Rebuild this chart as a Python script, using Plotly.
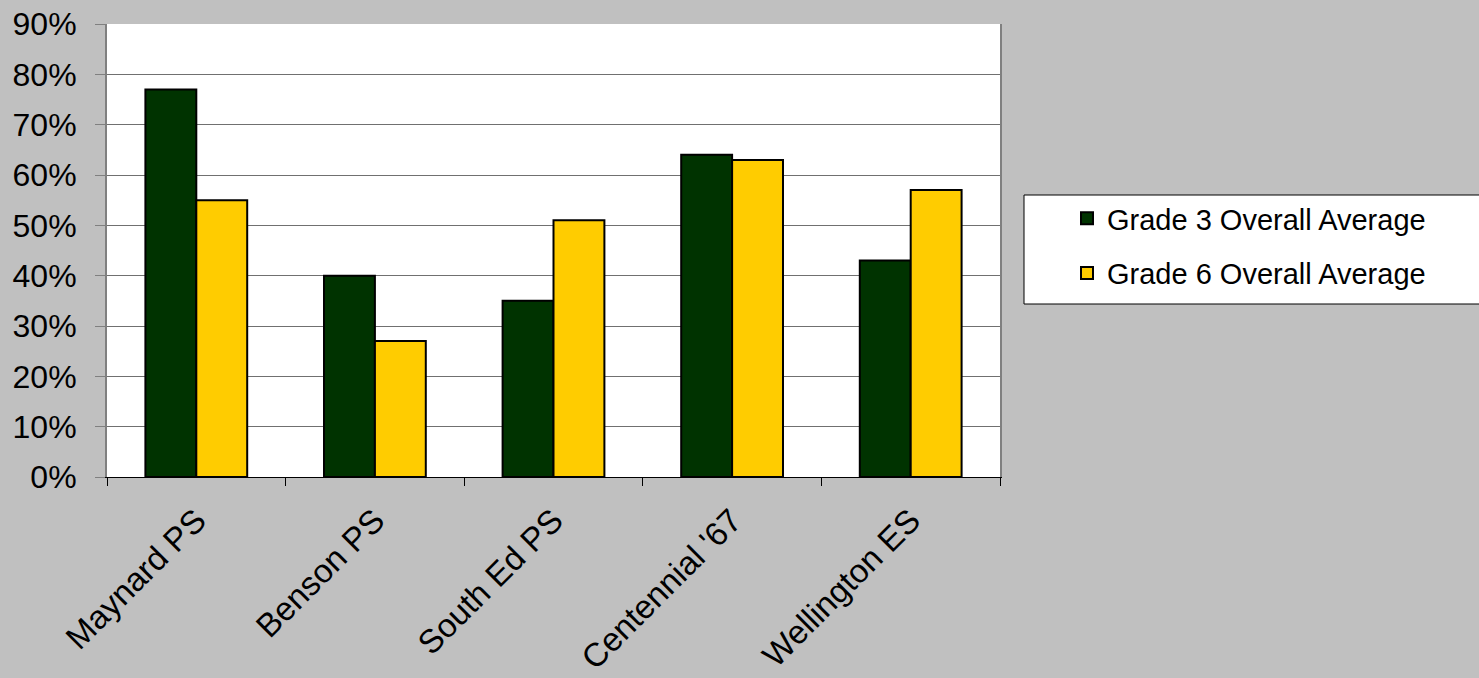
import plotly.graph_objects as go

schools = ["Maynard PS", "Benson PS", "South Ed PS", "Centennial '67", "Wellington ES"]
grade3 = [77, 40, 35, 64, 43]
grade6 = [55, 27, 51, 63, 57]
series_names = ["Grade 3 Overall Average", "Grade 6 Overall Average"]
y_ticks = [0, 10, 20, 30, 40, 50, 60, 70, 80, 90]

FONT = "Arial, 'Liberation Sans', sans-serif"
W, H = 1479, 678
L, R, T, B = 107, 479, 24, 201
pw, ph = W - L - R, H - T - B

def px_x(x):
    return (x - L) / pw

def px_y(y):
    return (H - B - y) / ph

fig = go.Figure()
fig.add_trace(go.Bar(x=schools, y=grade3, name=series_names[0], legendgroup="g3",
                     marker=dict(color="#003300", line=dict(color="#000000", width=2))))
fig.add_trace(go.Bar(x=schools, y=grade6, name=series_names[1], legendgroup="g6",
                     marker=dict(color="#FFCC00", line=dict(color="#000000", width=2))))

fig.update_layout(
    width=W, height=H,
    margin=dict(l=L, r=R, t=T, b=B, autoexpand=False),
    paper_bgcolor="#C0C0C0",
    plot_bgcolor="#FFFFFF",
    barmode="group", bargap=0.43, bargroupgap=0,
    font=dict(family=FONT, color="#000000"),
    legend=dict(
        x=px_x(1067), y=px_y(193), xanchor="left", yanchor="top",
        bgcolor="rgba(0,0,0,0)", borderwidth=0,
        font=dict(size=29, family=FONT, color="#000000"),
        traceorder="grouped", tracegroupgap=14,
    ),
    shapes=[dict(type="rect", xref="paper", yref="paper",
                 x0=px_x(1024), x1=px_x(1500), y0=px_y(304), y1=px_y(195),
                 fillcolor="#FFFFFF", line=dict(color="#000000", width=1), layer="below")],
)

fig.update_xaxes(
    type="category", tickangle=-45, tickson="boundaries",
    ticks="outside", ticklen=8, tickcolor="#000000",
    showline=True, linecolor="#000000", linewidth=1,
    tickfont=dict(size=33, family=FONT, color="#000000"),
    ticklabelstandoff=10, automargin=False,
    showgrid=False,
)
fig.update_yaxes(
    range=[0, 90], tickvals=y_ticks, ticktext=[f"{v}%" for v in y_ticks],
    ticks="outside", ticklen=10, tickcolor="#808080",
    showline=True, linecolor="#808080", linewidth=2, mirror=True,
    showgrid=True, gridcolor="#707070", gridwidth=1,
    tickfont=dict(size=32, family=FONT, color="#000000"),
    ticklabelstandoff=12, automargin=False,
    zeroline=False,
)

fig.write_html("out.html", config={"displayModeBar": False},
               post_script="document.body.style.margin='0';document.body.style.overflow='hidden';")
